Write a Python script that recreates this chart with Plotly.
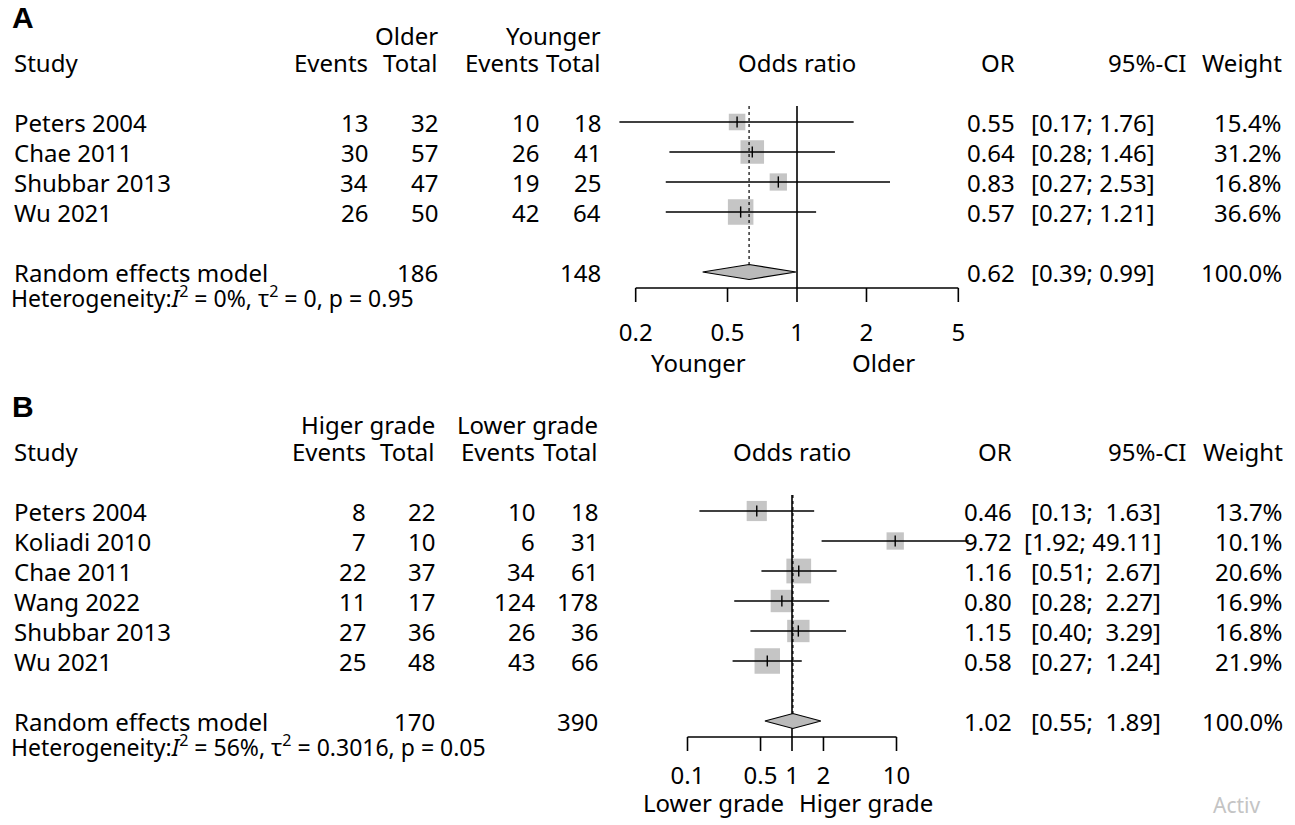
import math
import plotly.graph_objects as go

W, H = 1295, 825
FONT = "Noto Sans"
FS = 24
FS_HET = 23
SQ_COLOR = "#adadad"
DIA_COLOR = "#bababa"

# ---------------- Panel A: older vs younger ----------------
studies_a = ["Peters 2004", "Chae 2011", "Shubbar 2013", "Wu 2021"]
older_events = [13, 30, 34, 26]
older_total = [32, 57, 47, 50]
younger_events = [10, 26, 19, 42]
younger_total = [18, 41, 25, 64]
or_a = [0.55, 0.64, 0.83, 0.57]
ci_lo_a = [0.17, 0.28, 0.27, 0.27]
ci_hi_a = [1.76, 1.46, 2.53, 1.21]
weight_a = [15.4, 31.2, 16.8, 36.6]
pooled_a = [0.62, 0.39, 0.99]
pooled_tot_a = [186, 148]
ticks_a = [0.2, 0.5, 1, 2, 5]
het_a = "Heterogeneity:<i>I</i><sup>2</sup> = 0%, τ<sup>2</sup> = 0, p = 0.95"
groups_a = ["Older", "Younger"]
sides_a = ["Younger", "Older"]

# ---------------- Panel B: higher vs lower grade ----------------
studies_b = ["Peters 2004", "Koliadi 2010", "Chae 2011", "Wang 2022", "Shubbar 2013", "Wu 2021"]
hi_events = [8, 7, 22, 11, 27, 25]
hi_total = [22, 10, 37, 17, 36, 48]
lo_events = [10, 6, 34, 124, 26, 43]
lo_total = [18, 31, 61, 178, 36, 66]
or_b = [0.46, 9.72, 1.16, 0.80, 1.15, 0.58]
ci_lo_b = [0.13, 1.92, 0.51, 0.28, 0.40, 0.27]
ci_hi_b = [1.63, 49.11, 2.67, 2.27, 3.29, 1.24]
weight_b = [13.7, 10.1, 20.6, 16.9, 16.8, 21.9]
pooled_b = [1.02, 0.55, 1.89]
pooled_tot_b = [170, 390]
ticks_b = [0.1, 0.5, 1, 2, 10]
het_b = "Heterogeneity:<i>I</i><sup>2</sup> = 56%, τ<sup>2</sup> = 0.3016, p = 0.05"
groups_b = ["Higer grade", "Lower grade"]
sides_b = ["Lower grade", "Higer grade"]

ROW = 30.0  # pixel height of one study row


def fmt_ci(lo, hi, width):
    s = f"[{lo:.2f}; {hi:>{width}.2f}]"
    return s.replace(" ", "\u00a0")


def add_panel(fig, xa, ya, row0, null_px, letter, groups, sides,
              studies, ev1, tot1, ev2, tot2, est, lo, hi, wt, pooled,
              pooled_tot, ticks, het, cols, side_px, lab_gap, side_gap):
    yref = ya
    k = len(studies)
    rows = list(range(k))
    pooled_row = k + 1
    axis_row = pooled_row + 16 / ROW
    tick_end = axis_row + 14 / ROW
    half_h = 7.5 / ROW
    top_row = -16 / ROW
    wmax = max(wt)

    # boxes sized by study weight
    fig.add_trace(go.Scatter(
        x=est, y=rows, mode="markers", xaxis=xa, yaxis=ya,
        marker=dict(symbol="square", color=SQ_COLOR,
                    size=[25.5 * math.sqrt(w / wmax) for w in wt],
                    line=dict(width=0)),
        hoverinfo="skip"))

    # confidence intervals
    cx, cy = [], []
    for r, a, b in zip(rows, lo, hi):
        cx += [a, b, None]
        cy += [r, r, None]
    fig.add_trace(go.Scatter(x=cx, y=cy, mode="lines", xaxis=xa, yaxis=ya,
                             line=dict(color="black", width=1.6), hoverinfo="skip"))

    # point estimate tick inside each box
    fig.add_trace(go.Scatter(
        x=est, y=rows, mode="markers", xaxis=xa, yaxis=ya,
        marker=dict(symbol="line-ns", size=8, line=dict(color="black", width=1.4)),
        hoverinfo="skip"))

    # line of no effect
    fig.add_trace(go.Scatter(x=[1, 1], y=[top_row, axis_row], mode="lines",
                             xaxis=xa, yaxis=ya,
                             line=dict(color="black", width=1.6), hoverinfo="skip"))

    # pooled estimate reference (dotted)
    fig.add_trace(go.Scatter(x=[pooled[0], pooled[0]], y=[top_row, pooled_row - half_h],
                             mode="lines", xaxis=xa, yaxis=ya,
                             line=dict(color="black", width=1.2, dash="dot"),
                             hoverinfo="skip"))

    # pooled diamond
    pe, pl, ph = pooled
    fig.add_trace(go.Scatter(
        x=[pl, pe, ph, pe, pl], y=[pooled_row, pooled_row - half_h, pooled_row,
                                   pooled_row + half_h, pooled_row],
        mode="lines", fill="toself", fillcolor=DIA_COLOR, xaxis=xa, yaxis=ya,
        line=dict(color="black", width=1.2), hoverinfo="skip"))

    # x axis line and ticks
    ax_x = [min(ticks), max(ticks)]
    ax_y = [axis_row, axis_row]
    for t in ticks:
        ax_x += [None, t, t]
        ax_y += [None, axis_row, tick_end]
    fig.add_trace(go.Scatter(x=ax_x, y=ax_y, mode="lines", xaxis=xa, yaxis=ya,
                             line=dict(color="black", width=1.6), hoverinfo="skip"))

    # tick labels
    lab_row = tick_end + lab_gap
    fig.add_trace(go.Scatter(
        x=ticks, y=[lab_row] * len(ticks), mode="text",
        text=[f"{t:g}" for t in ticks], xaxis=xa, yaxis=ya,
        textfont=dict(family=FONT, size=FS, color="black"),
        textposition="middle center", hoverinfo="skip"))

    def ann(text, px, row, anchor="right", size=FS, color="black"):
        fig.add_annotation(text=text, x=px / W, xref="paper", y=row, yref=yref,
                           xanchor=anchor, yanchor="middle", showarrow=False,
                           font=dict(family=FONT, size=size, color=color))

    def r_of(px):
        return (px - row0) / ROW

    # panel letter
    fig.add_annotation(text=f"<b>{letter}</b>", x=10 / W, xref="paper", y=r_of(row0 - 105),
                       yref=yref, xanchor="left", yanchor="middle", showarrow=False,
                       font=dict(family="Liberation Sans", size=30, color="black"))

    g_row = r_of(row0 - 87)
    h_row = r_of(row0 - 60)
    c_ev1, c_tot1, c_ev2, c_tot2, c_or, c_ci, c_ci_head, c_wt = cols

    ann(groups[0], c_tot1, g_row)
    ann(groups[1], c_tot2, g_row)
    ann("Study", 12, h_row, anchor="left")
    ann("Events", c_ev1, h_row)
    ann("Total", c_tot1, h_row)
    ann("Events", c_ev2, h_row)
    ann("Total", c_tot2, h_row)
    ann("Odds ratio", null_px, h_row, anchor="center")
    ann("OR", c_or, h_row)
    ann("95%-CI", c_ci_head, h_row)
    ann("Weight", c_wt, h_row)

    width = max(len(f"{v:.2f}") for v in hi + [pooled[2]])
    for r, s, a, b, c, d, e, l, h, w in zip(rows, studies, ev1, tot1, ev2, tot2,
                                             est, lo, hi, wt):
        ann(s, 12, r, anchor="left")
        ann(str(a), c_ev1, r)
        ann(str(b), c_tot1, r)
        ann(str(c), c_ev2, r)
        ann(str(d), c_tot2, r)
        ann(f"{e:.2f}", c_or, r)
        ann(fmt_ci(l, h, width), c_ci, r)
        ann(f"{w:.1f}%", c_wt, r)

    ann("Random effects model", 12, pooled_row, anchor="left")
    ann(str(pooled_tot[0]), c_tot1, pooled_row)
    ann(str(pooled_tot[1]), c_tot2, pooled_row)
    ann(f"{pe:.2f}", c_or, pooled_row)
    ann(fmt_ci(pl, ph, width), c_ci, pooled_row)
    ann("100.0%", c_wt, pooled_row)
    ann(het, 9, pooled_row + 25 / ROW, anchor="left", size=FS_HET)

    # direction labels under the axis
    side_row = lab_row + side_gap
    ann(sides[0], side_px[0], side_row, anchor="center")
    ann(sides[1], side_px[1], side_row, anchor="center")


fig = go.Figure()

# panel A: null line at 797 px, 230.8 px per decade, first row at 122 px
A_NULL, A_DEC, A_ROW0 = 797, 230.8, 122
# panel B: null line at 792 px, 104.5 px per decade, first row at 511 px
B_NULL, B_DEC, B_ROW0 = 792, 104.5, 511

add_panel(fig, "x", "y", A_ROW0, A_NULL, "A", groups_a, sides_a,
          studies_a, older_events, older_total, younger_events, younger_total,
          or_a, ci_lo_a, ci_hi_a, weight_a, pooled_a, pooled_tot_a, ticks_a, het_a,
          cols=(370, 440, 541, 603, 1017, 1157, 1188, 1284),
          side_px=(698, 883), lab_gap=1.1, side_gap=0.9)
add_panel(fig, "x2", "y2", B_ROW0, B_NULL, "B", groups_b, sides_b,
          studies_b, hi_events, hi_total, lo_events, lo_total,
          or_b, ci_lo_b, ci_hi_b, weight_b, pooled_b, pooled_tot_b, ticks_b, het_b,
          cols=(368, 437, 537, 600, 1014, 1163, 1188, 1285),
          side_px=(713, 866), lab_gap=0.9, side_gap=0.833)

# faint watermark text in the lower right corner
fig.add_annotation(text="Activ", x=1211 / W, xref="paper", y=1 - 805 / H, yref="paper",
                   xanchor="left", yanchor="middle", showarrow=False,
                   font=dict(family=FONT, size=21, color="#c4c4c4"))

hidden = dict(visible=False, showgrid=False, zeroline=False, fixedrange=True)
fig.update_layout(
    width=W, height=H, margin=dict(l=0, r=0, t=0, b=0),
    paper_bgcolor="white", plot_bgcolor="white", showlegend=False,
    xaxis=dict(domain=[0, 1], type="log", anchor="y",
               range=[(0 - A_NULL) / A_DEC, (W - A_NULL) / A_DEC], **hidden),
    yaxis=dict(domain=[0, 1], anchor="x",
               range=[(H - A_ROW0) / ROW, (0 - A_ROW0) / ROW], **hidden),
    xaxis2=dict(domain=[0, 1], type="log", anchor="y2", overlaying="x",
                range=[(0 - B_NULL) / B_DEC, (W - B_NULL) / B_DEC], **hidden),
    yaxis2=dict(domain=[0, 1], anchor="x2", overlaying="y",
                range=[(H - B_ROW0) / ROW, (0 - B_ROW0) / ROW], **hidden),
)

fig.write_html("out.html")
